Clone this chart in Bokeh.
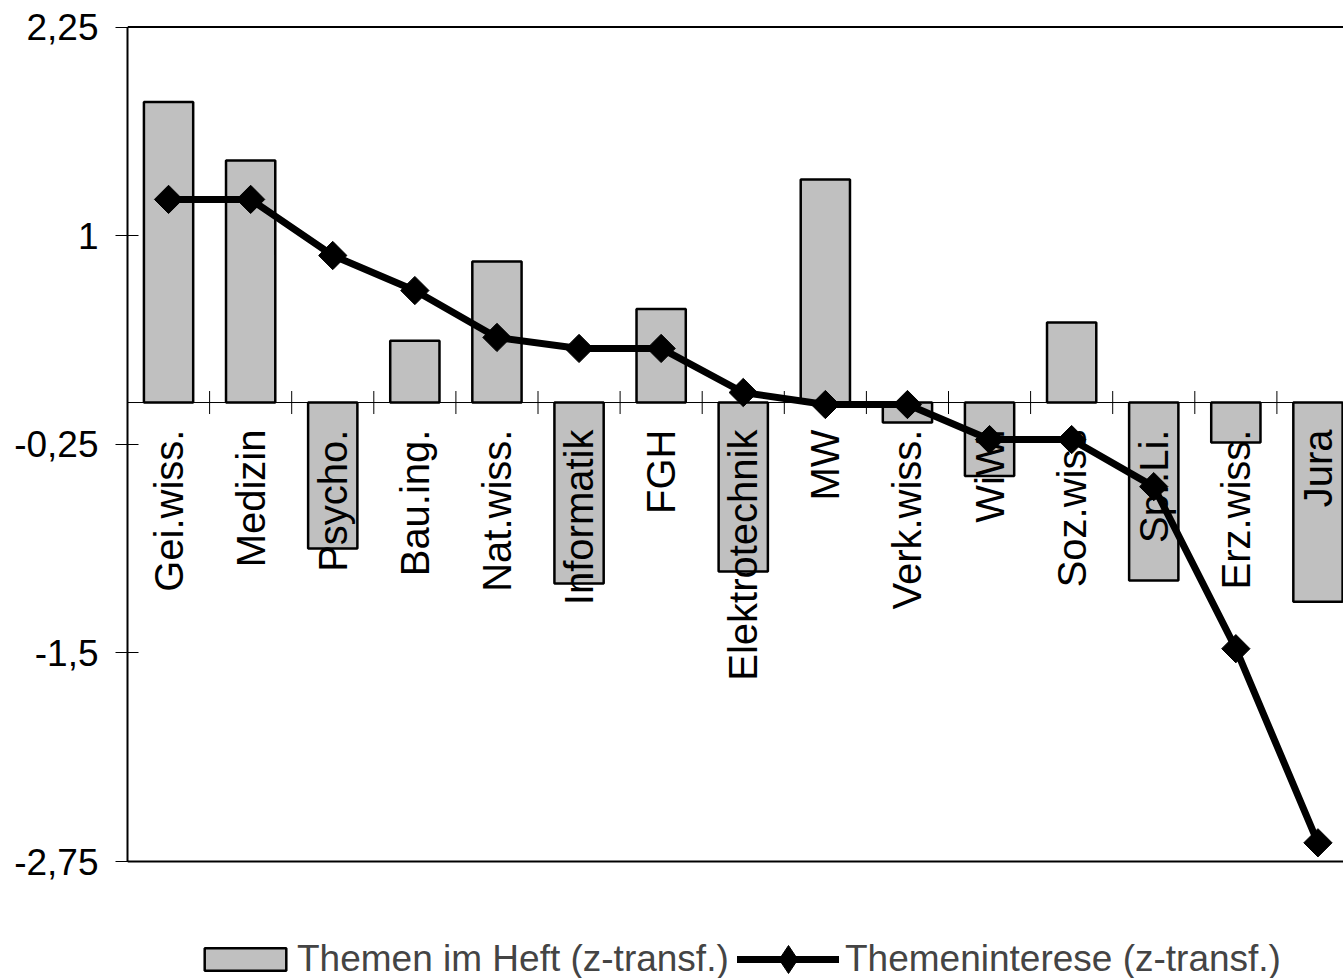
import math
from bokeh.plotting import figure
from bokeh.models import ColumnDataSource, FixedTicker, Span, Legend, LegendItem, Range1d
from bokeh.core.properties import value
from bokeh.embed import file_html
from bokeh.resources import INLINE

# ---- data ----
categories = ["Gei.wiss.", "Medizin", "Psycho.", "Bau.ing.", "Nat.wiss.", "Informatik",
              "FGH", "Elektrotechnik", "MW", "Verk.wiss.", "WiWi", "Soz.wiss",
              "Spr.Li.", "Erz.wiss.", "Jura"]
themen_im_heft = [1.80, 1.45, -0.875, 0.37, 0.845, -1.085, 0.56, -1.013, 1.337,
                  -0.12, -0.44, 0.48, -1.067, -0.24, -1.193]
themeninteresse = [1.217, 1.217, 0.881, 0.671, 0.39, 0.324, 0.324, 0.06, -0.012,
                   -0.012, -0.222, -0.222, -0.504, -1.475, -2.638]
y_ticks = [-2.75, -1.5, -0.25, 1, 2.25]
y_tick_labels = ["-2,75", "-1,5", "-0,25", "1", "2,25"]
series_names = ["Themen im Heft (z-transf.)", "Themeninterese (z-transf.)"]

FONT = "Liberation Sans"
FS = "37px"
FS_LEG = "37px"
FS_CAT = "40px"

# ---- layout (pixels) ----
W, H = 1343, 978
LEFT, TOP = 127, 25
PX_PER_UNIT = 166.9       # vertical scale
PX_PER_CAT = 82.1         # horizontal scale
y_end = y_ticks[-1] + 1.5 / PX_PER_UNIT
y_start = y_end - (H - TOP) / PX_PER_UNIT
x_start = -0.5
x_end = x_start + (W - LEFT) / PX_PER_CAT

xs = list(range(len(categories)))
src = ColumnDataSource(dict(x=xs, bar=themen_im_heft, line=themeninteresse,
                            cat=categories, zero=[0] * len(categories)))
bounds = ColumnDataSource(dict(x=[i + 0.5 for i in xs[:-1]], y=[0] * (len(xs) - 1)))

p = figure(width=W, height=H, output_backend="svg", toolbar_location=None,
           x_range=Range1d(x_start, x_end), y_range=Range1d(y_start, y_end),
           min_border_left=LEFT, min_border_right=0, min_border_top=TOP,
           min_border_bottom=0)
p.outline_line_color = None
p.grid.visible = False
p.xaxis.visible = False
p.background_fill_color = "white"
p.border_fill_color = "white"

ya = p.yaxis[0]
ya.ticker = FixedTicker(ticks=y_ticks)
ya.bounds = (y_ticks[0], y_ticks[-1])
ya.major_label_overrides = {t: l for t, l in zip(y_ticks, y_tick_labels)}
ya.major_label_text_font = FONT
ya.major_label_text_font_size = FS
ya.major_label_text_color = "black"
ya.major_label_standoff = 17
ya.axis_line_width = 2
ya.axis_line_color = "black"
ya.major_tick_line_color = "black"
ya.major_tick_line_width = 1
ya.major_tick_out = 12
ya.major_tick_in = 11
ya.minor_tick_line_color = None

# frame top & bottom lines
p.add_layout(Span(location=y_ticks[-1], dimension="width", line_color="black", line_width=2))
p.add_layout(Span(location=y_ticks[0], dimension="width", line_color="black", line_width=2))
# zero line
p.add_layout(Span(location=0, dimension="width", line_color="black", line_width=1, level="underlay"))

bars = p.vbar(x="x", top="bar", bottom=0, width=0.6, source=src,
              fill_color="#C0C0C0", line_color="black", line_width=2.5)

# boundary tick marks on the zero axis
p.scatter(x="x", y="y", source=bounds, marker="dash", angle=math.pi / 2, size=23,
          line_color="black", line_width=1)

# category labels
p.text(x="x", y="zero", text="cat", source=src, angle=math.pi / 2,
       text_align="right", text_baseline="middle", y_offset=27,
       text_font=value(FONT), text_font_size=value(FS_CAT), text_color="black")

ln = p.line(x="x", y="line", source=src, line_color="black", line_width=7,
            line_join="round", line_cap="round")
mk = p.scatter(x="x", y="line", source=src, marker="square", angle=math.pi / 4,
               size=20, fill_color="black", line_color="black")
# legend-only diamond symbol (zero size in the plot, sized by the legend)
leg_mk = p.scatter(x="x", y="line", source=src, marker="diamond", size=0,
                   fill_color="black", line_color="black")

leg1 = Legend(items=[LegendItem(label=series_names[0], renderers=[bars])],
              location=(67, -2), orientation="horizontal", padding=0, margin=0,
              glyph_width=102, glyph_height=28, label_standoff=1,
              border_line_color=None, background_fill_alpha=0,
              label_text_font=FONT, label_text_font_size=FS_LEG)
leg2 = Legend(items=[LegendItem(label=series_names[1], renderers=[ln, leg_mk])],
              location=(610, -16), orientation="horizontal", padding=0, margin=0,
              glyph_width=102, glyph_height=70, label_standoff=6,
              border_line_color=None, background_fill_alpha=0,
              label_text_font=FONT, label_text_font_size=FS_LEG)
p.add_layout(leg1, "center")
p.add_layout(leg2, "center")

open("out.html", "w").write(file_html(p, INLINE))
